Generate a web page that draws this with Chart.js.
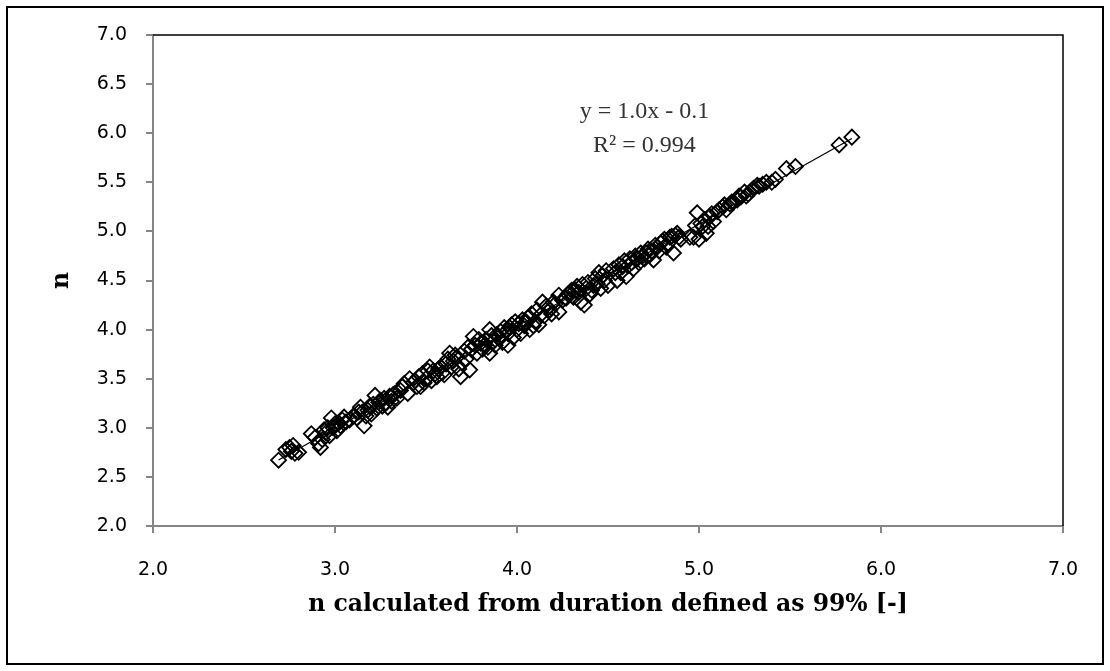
<!DOCTYPE html>
<html>
<head>
<meta charset="utf-8">
<script src="https://cdn.jsdelivr.net/npm/chart.js@4.4.1/dist/chart.umd.min.js"></script>
<style>
html,body{margin:0;padding:0;background:#fff;}
#wrap{width:1110px;height:671px;position:relative;}
</style>
</head>
<body>
<div id="wrap"><canvas id="c" width="1110" height="671"></canvas></div>
<script>
// ---- data ----
const xValues = [
 2.69,2.73,2.75,2.76,2.78,2.80,2.77,
 2.87,2.89,2.91,2.92,2.93,2.95,2.97,2.98,2.99,3.00,3.01,3.03,3.05,3.06,3.08,
 3.12,3.14,3.15,3.16,3.17,3.18,3.20,3.21,3.22,3.23,3.25,3.26,3.27,3.28,3.29,3.30,3.31,3.33,3.34,
 3.38,3.40,3.41,3.43,3.45,3.47,3.48,3.50,3.51,3.52,3.53,3.55,3.56,3.57,3.59,
 3.61,3.62,3.63,3.64,3.65,3.67,3.68,3.69,3.70,3.71,3.72,3.74,3.75,3.76,3.77,3.78,3.80,3.81,3.83,3.85,3.85,3.87,
 3.89,3.91,3.92,3.93,3.95,3.95,3.97,3.98,3.99,4.00,4.02,4.03,4.04,4.06,4.07,4.08,4.10,4.11,4.12,4.14,4.15,4.17,4.19,4.21,4.23,4.23,4.25,
 4.28,4.30,4.31,4.33,4.34,4.35,4.37,4.38,4.39,4.40,4.42,4.43,4.45,4.46,4.48,4.50,
 4.53,4.55,4.56,4.57,4.59,4.60,4.61,4.62,4.64,4.65,4.67,4.68,4.70,4.72,4.73,4.75,4.76,4.78,
 4.80,4.82,4.84,4.86,4.87,4.88,4.90,4.95,4.97,4.98,4.99,5.00,5.02,5.03,5.04,5.06,5.08,
 5.10,5.13,5.15,5.17,5.19,5.21,5.23,5.25,5.27,5.29,5.32,5.35,5.40,5.42,5.48,5.53,
 5.77,5.84,
 3.44,3.46,3.49,3.54,3.58,3.60,3.66,3.73,3.79,3.82,3.84,3.86,3.88,
 3.90,3.94,3.96,4.01,4.05,4.09,4.13,4.16,4.18,4.20,
 4.27,4.29,4.32,4.36,4.41,4.44,4.47,4.49,
 4.54,4.58,4.63,4.66,4.69,4.71,4.74,4.77,4.79,
 4.81,4.83,4.85,4.89,5.01,5.05,5.07,
 3.13,3.19,3.24,3.32,3.36,3.37,
 2.94,2.96,3.02,3.04,3.10,
 5.11,5.14,5.18,5.22,5.26,5.30,5.33,5.37
];
const yValues = [
 2.67,2.78,2.80,2.76,2.74,2.75,2.82,
 2.94,2.90,2.84,2.80,2.88,2.95,2.92,3.10,3.00,3.04,2.97,3.02,3.11,3.06,3.08,
 3.10,3.21,3.16,3.02,3.12,3.18,3.14,3.24,3.33,3.20,3.28,3.22,3.30,3.25,3.21,3.32,3.27,3.35,3.30,
 3.45,3.35,3.50,3.46,3.42,3.42,3.55,3.50,3.58,3.62,3.48,3.55,3.52,3.60,3.56,
 3.65,3.70,3.76,3.62,3.68,3.72,3.60,3.52,3.66,3.78,3.70,3.59,3.80,3.93,3.84,3.76,3.86,3.80,3.90,3.76,4.00,3.88,
 3.95,3.98,3.87,4.02,3.84,3.96,4.05,3.92,4.08,4.00,3.96,4.10,4.04,4.12,4.00,4.16,4.08,4.20,4.05,4.28,4.14,4.22,4.16,4.26,4.35,4.18,4.30,
 4.36,4.40,4.33,4.44,4.38,4.28,4.25,4.42,4.48,4.36,4.45,4.52,4.58,4.42,4.50,4.45,
 4.62,4.50,4.66,4.58,4.70,4.54,4.65,4.72,4.62,4.75,4.68,4.78,4.72,4.82,4.76,4.71,4.86,4.80,
 4.90,4.84,4.94,4.78,4.96,4.98,4.92,4.94,4.94,5.06,5.19,4.92,5.05,5.12,4.98,5.15,5.10,
 5.20,5.25,5.22,5.28,5.30,5.32,5.35,5.40,5.38,5.42,5.47,5.48,5.50,5.53,5.64,5.66,
 5.88,5.96,
 3.48,3.52,3.46,3.58,3.62,3.54,3.74,3.82,3.90,3.84,3.82,3.94,3.84,
 3.92,3.98,4.02,4.06,4.08,4.04,4.15,4.24,4.20,4.28,
 4.32,4.38,4.40,4.46,4.40,4.47,4.55,4.60,
 4.58,4.64,4.68,4.72,4.75,4.78,4.80,4.84,4.88,
 4.92,4.88,4.95,4.94,5.08,5.05,5.18,
 3.16,3.22,3.26,3.34,3.38,3.42,
 2.98,3.00,3.05,3.08,3.12,
 5.22,5.27,5.30,5.36,5.36,5.44,5.46,5.50
];
const xTickLabels = ['2.0','3.0','4.0','5.0','6.0','7.0'];
const yTickLabels = ['2.0','2.5','3.0','3.5','4.0','4.5','5.0','5.5','6.0','6.5','7.0'];
const equationLines = ['y = 1.0x - 0.1', 'R\u00B2 = 0.994'];
const xTitle = 'n calculated from duration defined as 99% [-]';
const yTitle = 'n';

// ---- build datasets ----
const points = xValues.map((x, i) => ({x: x, y: yValues[i]}));
const n = xValues.length;
const mx = xValues.reduce((a, b) => a + b, 0) / n;
const my = yValues.reduce((a, b) => a + b, 0) / n;
let sxy = 0, sxx = 0;
for (let i = 0; i < n; i++) { sxy += (xValues[i] - mx) * (yValues[i] - my); sxx += (xValues[i] - mx) ** 2; }
const slope = sxy / sxx, intercept = my - slope * mx;
const xmin = Math.min(...xValues), xmax = Math.max(...xValues);
const trend = [{x: xmin, y: slope * xmin + intercept}, {x: xmax, y: slope * xmax + intercept}];

const frame = {
  id: 'frame',
  afterDraw(chart) {
    const ctx = chart.ctx, a = chart.chartArea;
    ctx.save();
    ctx.strokeStyle = '#000'; ctx.lineWidth = 1.5;
    ctx.beginPath();
    ctx.moveTo(a.left, a.top); ctx.lineTo(a.right, a.top); ctx.lineTo(a.right, a.bottom);
    ctx.stroke();
    ctx.lineWidth = 2;
    ctx.strokeRect(7, 7, 1096, 657);
    const xs = chart.scales.x, ys = chart.scales.y;
    ctx.fillStyle = '#333';
    ctx.font = '24px "Liberation Serif"';
    ctx.textAlign = 'center'; ctx.textBaseline = 'alphabetic';
    ctx.fillText(equationLines[0], xs.getPixelForValue(4.70), ys.getPixelForValue(6.155));
    ctx.fillText(equationLines[1], xs.getPixelForValue(4.70), ys.getPixelForValue(5.81));
    ctx.restore();
  }
};

new Chart(document.getElementById('c'), {
  type: 'scatter',
  data: {
    datasets: [
      {
        data: points,
        pointStyle: 'rectRot',
        pointRadius: 7.5,
        pointHoverRadius: 7.5,
        borderColor: '#000',
        backgroundColor: 'rgba(0,0,0,0)',
        borderWidth: 1.8,
        order: 2
      },
      {
        type: 'line',
        data: trend,
        borderColor: '#000',
        borderWidth: 1.2,
        pointRadius: 0,
        fill: false,
        order: 1
      }
    ]
  },
  options: {
    responsive: false,
    animation: false,
    events: [],
    layout: {padding: {left: 0, top: 35, right: 47, bottom: 0}},
    plugins: {legend: {display: false}, tooltip: {enabled: false}},
    scales: {
      x: {
        type: 'linear', min: 2, max: 7,
        afterFit(s) { s.height = 145; },
        afterBuildTicks(s) { s.ticks = xTickLabels.map(v => ({value: parseFloat(v)})); },
        ticks: {
          callback: (v) => xTickLabels.find(l => parseFloat(l) === v),
          color: '#000', font: {family: '"DejaVu Sans"', size: 19}, padding: 26, maxRotation: 0
        },
        grid: {drawOnChartArea: false, drawTicks: true, tickLength: 7, color: '#868686', lineWidth: 2},
        border: {color: '#868686', width: 2},
        title: {
          display: true, text: xTitle, color: '#000',
          font: {family: '"DejaVu Serif"', size: 23.5, weight: 'bold'},
          padding: {top: 0, bottom: 52}
        }
      },
      y: {
        type: 'linear', min: 2, max: 7,
        afterFit(s) { s.width = 153; },
        afterBuildTicks(s) { s.ticks = yTickLabels.map(v => ({value: parseFloat(v)})); },
        ticks: {
          callback: (v) => yTickLabels.find(l => parseFloat(l) === v),
          color: '#000', font: {family: '"DejaVu Sans"', size: 19}, padding: 19
        },
        grid: {drawOnChartArea: false, drawTicks: true, tickLength: 7, color: '#868686', lineWidth: 2},
        border: {color: '#868686', width: 2},
        title: {
          display: true, text: yTitle, color: '#000',
          font: {family: '"DejaVu Serif"', size: 23.5, weight: 'bold'},
          padding: {top: 48, bottom: 0}
        }
      }
    }
  },
  plugins: [frame]
});
</script>
</body>
</html>
